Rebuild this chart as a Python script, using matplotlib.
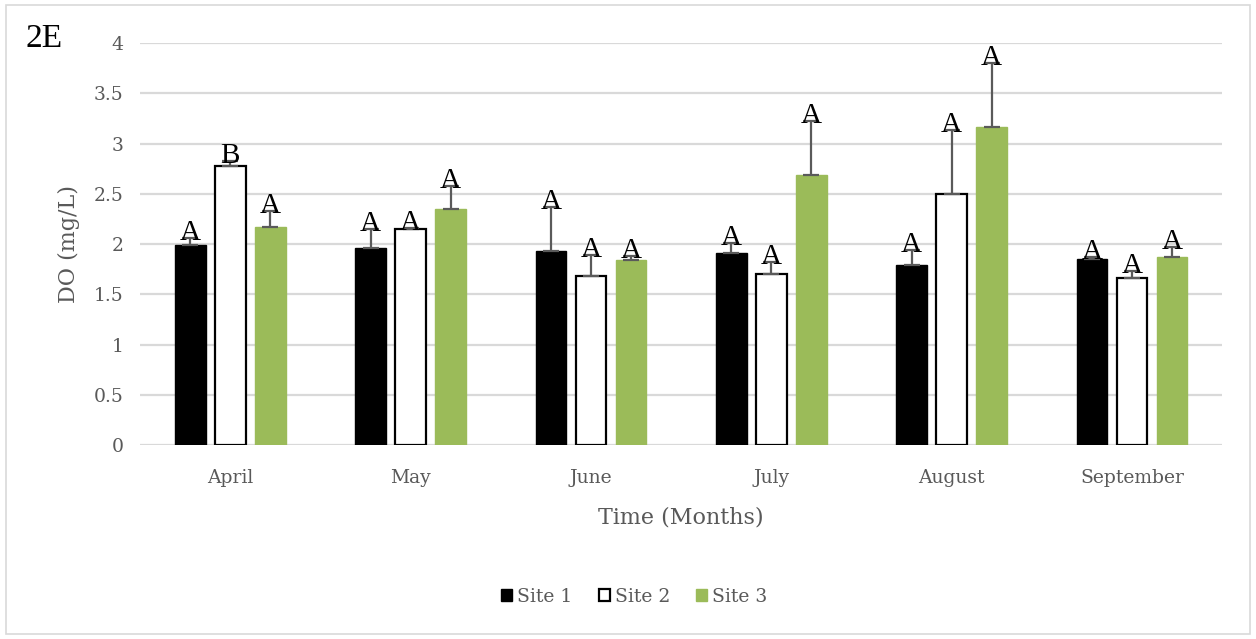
"""Dissolved oxygen by month for three sampling sites (panel 2E)."""

import numpy as np
import matplotlib.pyplot as plt
from matplotlib.patches import Rectangle


MONTHS = ["April", "May", "June", "July", "August", "September"]
SITES = ["Site 1", "Site 2", "Site 3"]

site1_do = [1.99, 1.96, 1.93, 1.91, 1.79, 1.85]
site2_do = [2.78, 2.15, 1.68, 1.70, 2.50, 1.66]
site3_do = [2.17, 2.35, 1.84, 2.69, 3.16, 1.87]

site1_err = [0.07, 0.19, 0.44, 0.10, 0.15, 0.02]
site2_err = [0.05, 0.01, 0.21, 0.12, 0.63, 0.07]
site3_err = [0.16, 0.23, 0.04, 0.53, 0.64, 0.10]

site1_letters = ["A", "A", "A", "A", "A", "A"]
site2_letters = ["B", "A", "A", "A", "A", "A"]
site3_letters = ["A", "A", "A", "A", "A", "A"]

GREEN = "#9BBB59"
GRID = "#d9d9d9"
TEXT_GRAY = "#595959"
ERR_GRAY = "#5a5a5a"
LABEL_FONT = "DejaVu Serif"
LETTER_FONT = "Liberation Serif"


def main():
    fig = plt.figure(figsize=(12.56, 6.39), dpi=100)
    ax = fig.add_axes([0.1115, 0.3036, 0.8615, 0.6291])

    x = np.arange(len(MONTHS))
    width = 0.17
    offset = 0.222

    series = [
        (site1_do, site1_err, site1_letters, dict(color="black", edgecolor="black")),
        (site2_do, site2_err, site2_letters, dict(color="white", edgecolor="black", linewidth=1.6)),
        (site3_do, site3_err, site3_letters, dict(color=GREEN, edgecolor=GREEN)),
    ]

    for i, (vals, errs, letters, style) in enumerate(series):
        pos = x + (i - 1) * offset
        ax.bar(pos, vals, width, label=SITES[i], zorder=3, **style)
        ax.errorbar(pos, vals, yerr=[np.zeros(len(vals)), errs], fmt="none",
                    ecolor=ERR_GRAY, elinewidth=1.6, capsize=6, capthick=1.6, zorder=4)
        # significance letters sit on top of each error bar
        for px, v, e, letter in zip(pos, vals, errs, letters):
            ax.text(px, v + e - 0.02, letter, ha="center", va="baseline",
                    family=LETTER_FONT, fontsize=21, color="black", zorder=5)

    ax.set_xlim(-0.5, len(MONTHS) - 0.5)
    ax.set_ylim(0, 4)
    ax.set_yticks(np.arange(0, 4.01, 0.5))
    ax.set_yticklabels(["0", "0.5", "1", "1.5", "2", "2.5", "3", "3.5", "4"])
    ax.set_xticks(x)
    ax.set_xticklabels(MONTHS)
    ax.grid(axis="y", color=GRID, linewidth=1.6, zorder=0)
    ax.set_axisbelow(True)
    for spine in ax.spines.values():
        spine.set_visible(False)
    ax.tick_params(length=0, labelsize=13.5, labelcolor=TEXT_GRAY, pad=12)
    ax.tick_params(axis="x", pad=17)
    for lbl in ax.get_xticklabels() + ax.get_yticklabels():
        lbl.set_family(LABEL_FONT)

    ax.set_xlabel("Time (Months)", family=LABEL_FONT, fontsize=16, color=TEXT_GRAY, labelpad=14)
    ax.set_ylabel("DO (mg/L)", family=LABEL_FONT, fontsize=16, color=TEXT_GRAY, labelpad=10)

    fig.text(0.02, 0.94, "2E", family=LETTER_FONT, fontsize=24, color="black", va="center")

    leg = fig.legend(loc="center", bbox_to_anchor=(0.505, 0.066), ncol=3, frameon=False,
                     handlelength=0.6, handleheight=0.6, handletextpad=0.25,
                     columnspacing=1.4, prop={"family": LABEL_FONT, "size": 13.5})
    for text in leg.get_texts():
        text.set_color(TEXT_GRAY)

    fig.patches.append(Rectangle((0.005, 0.008), 0.99, 0.984, transform=fig.transFigure,
                                 fill=False, edgecolor="#d9d9d9", linewidth=1.2))

    fig.savefig("out.png", dpi=100)


if __name__ == "__main__":
    main()
